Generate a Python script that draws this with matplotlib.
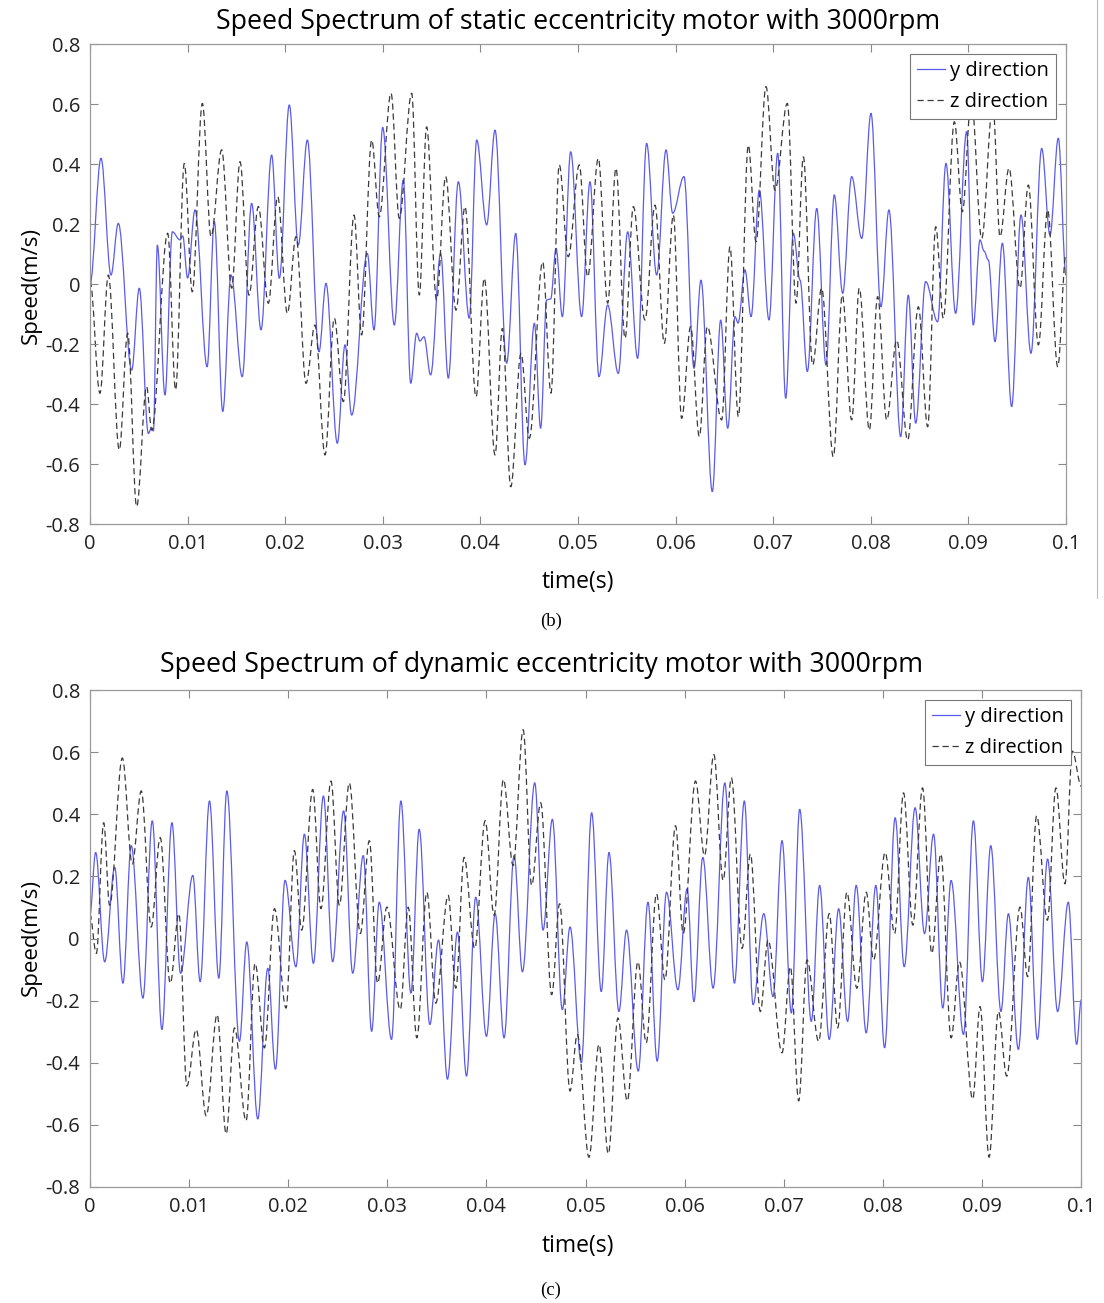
import numpy as np
import matplotlib.pyplot as plt
from matplotlib.path import Path
from matplotlib.patches import PathPatch
from matplotlib.lines import Line2D

# (time s, speed m/s) turning points
b_y = [(0.0, 0.0), (0.00113, 0.419), (0.00215, 0.03), (0.0029, 0.202), (0.00427, -0.287),
       (0.00505, -0.014), (0.00598, -0.498), (0.0063, -0.48), (0.0065, -0.49), (0.0069, 0.13),
       (0.00768, -0.37), (0.00844, 0.174), (0.00922, 0.147), (0.0095, 0.16), (0.0100, 0.02),
       (0.01076, 0.247), (0.0120, -0.276), (0.01274, 0.208), (0.0136, -0.425), (0.01445, 0.03),
       (0.0156, -0.309), (0.01656, 0.269), (0.01752, -0.153), (0.01861, 0.43), (0.0194, 0.019),
       (0.02042, 0.597), (0.02134, 0.13), (0.02227, 0.48), (0.02346, -0.226), (0.02418, 0.002),
       (0.02534, -0.531), (0.02613, -0.203), (0.02681, -0.437), (0.02841, 0.102), (0.0291, -0.153),
       (0.02999, 0.522), (0.03118, -0.137), (0.0321, 0.347), (0.03286, -0.331), (0.03347, -0.164),
       (0.0338, -0.19), (0.03422, -0.176), (0.0349, -0.303), (0.03593, 0.102), (0.03671, -0.314),
       (0.03774, 0.341), (0.03886, -0.114), (0.03962, 0.48), (0.04064, 0.197), (0.0415, 0.513),
       (0.04269, -0.264), (0.04362, 0.169), (0.04457, -0.603), (0.04553, -0.131), (0.04617, -0.481),
       (0.04679, -0.053), (0.0472, -0.05), (0.04775, 0.119), (0.0484, -0.109), (0.04925, 0.441),
       (0.05037, -0.109), (0.05123, 0.341), (0.05215, -0.309), (0.05304, -0.07), (0.05413, -0.298),
       (0.05509, 0.174), (0.05611, -0.248), (0.05703, 0.469), (0.05806, 0.03), (0.05902, 0.447),
       (0.0597, 0.236), (0.06086, 0.358), (0.06189, -0.281), (0.0626, 0.013), (0.06376, -0.692),
       (0.06462, -0.12), (0.06534, -0.481), (0.06609, -0.109), (0.0664, -0.13), (0.06711, 0.047),
       (0.06773, -0.109), (0.06858, 0.313), (0.06957, -0.12), (0.07046, 0.436), (0.07128, -0.381),
       (0.07206, 0.169), (0.07275, 0.013), (0.0735, -0.292), (0.07446, 0.252), (0.07541, -0.27),
       (0.07626, 0.297), (0.07712, -0.031), (0.07804, 0.358), (0.07907, 0.152), (0.08002, 0.569),
       (0.08104, -0.076), (0.08186, 0.247), (0.08306, -0.509), (0.08384, -0.037), (0.0846, -0.464),
       (0.08562, 0.008), (0.08685, -0.126), (0.0877, 0.402), (0.08869, -0.098), (0.08982, 0.508),
       (0.0905, -0.137), (0.09119, 0.147), (0.0916, 0.11), (0.09204, 0.08), (0.09273, -0.192),
       (0.09348, 0.136), (0.09443, -0.409), (0.09539, 0.23), (0.09641, -0.231), (0.09751, 0.452),
       (0.09836, 0.163), (0.09921, 0.486), (0.1, 0.03)]

b_z = [(0.0, 0.01), (0.00102, -0.364), (0.00188, 0.03), (0.003, -0.553), (0.00386, -0.164),
       (0.00478, -0.742), (0.0058, -0.342), (0.00632, -0.487), (0.00796, 0.169), (0.00877, -0.353),
       (0.00966, 0.402), (0.01048, -0.026), (0.01151, 0.602), (0.0124, 0.158), (0.01349, 0.447),
       (0.01452, -0.014), (0.01537, 0.408), (0.01629, -0.037), (0.01725, 0.258), (0.01827, -0.064),
       (0.01923, 0.291), (0.02022, -0.098), (0.02111, 0.158), (0.02213, -0.331), (0.02305, -0.137),
       (0.02408, -0.57), (0.02503, -0.114), (0.02596, -0.392), (0.02705, 0.23), (0.02783, -0.17),
       (0.02886, 0.48), (0.02964, 0.224), (0.03084, 0.636), (0.03169, 0.219), (0.03296, 0.636),
       (0.03374, -0.037), (0.03449, 0.524), (0.03551, -0.053), (0.03644, 0.358), (0.0375, -0.087),
       (0.03842, 0.258), (0.03955, -0.376), (0.0404, 0.019), (0.0415, -0.57), (0.04225, -0.148),
       (0.04311, -0.676), (0.04416, -0.231), (0.04501, -0.514), (0.04638, 0.074), (0.04723, -0.364),
       (0.04808, 0.397), (0.049, 0.091), (0.05013, 0.397), (0.05099, 0.024), (0.05208, 0.419),
       (0.05304, -0.064), (0.05389, 0.386), (0.05482, -0.181), (0.05567, 0.258), (0.05686, -0.12),
       (0.05789, 0.263), (0.05884, -0.198), (0.05977, 0.23), (0.06062, -0.448), (0.06154, -0.142),
       (0.06243, -0.509), (0.06325, -0.142), (0.06472, -0.453), (0.06557, 0.124), (0.06643, -0.442),
       (0.06745, 0.463), (0.06824, 0.141), (0.06926, 0.658), (0.07018, 0.313), (0.07145, 0.602),
       (0.07234, -0.064), (0.07309, 0.424), (0.07404, -0.27), (0.07496, -0.014), (0.07616, -0.576),
       (0.07708, -0.037), (0.07804, -0.453), (0.07882, -0.014), (0.07985, -0.487), (0.0807, -0.042),
       (0.08163, -0.453), (0.08265, -0.187), (0.08378, -0.52), (0.08487, -0.076), (0.08583, -0.476),
       (0.08665, 0.191), (0.08743, -0.114), (0.08856, 0.541), (0.08938, 0.241), (0.0903, 0.62),
       (0.09136, 0.152), (0.0925, 0.60), (0.09324, 0.158), (0.09416, 0.386), (0.09529, -0.014),
       (0.09614, 0.33), (0.09717, -0.203), (0.09812, 0.247), (0.09915, -0.276), (0.1, 0.1)]

c_y = [(0.0, 0.069), (0.0006, 0.277), (0.00151, -0.075), (0.00252, 0.229), (0.00335, -0.144),
       (0.00419, 0.299), (0.00537, -0.192), (0.00631, 0.379), (0.00728, -0.293), (0.00829, 0.373),
       (0.00916, -0.112), (0.0104, 0.203), (0.01114, -0.139), (0.01208, 0.443), (0.01302, -0.128),
       (0.01383, 0.475), (0.0151, -0.331), (0.01584, -0.011), (0.01695, -0.581), (0.01796, -0.096),
       (0.01873, -0.421), (0.0197, 0.187), (0.0208, -0.091), (0.02165, 0.336), (0.02256, -0.08),
       (0.02357, 0.459), (0.0245, -0.075), (0.02561, 0.411), (0.02652, -0.112), (0.02759, 0.267),
       (0.02843, -0.299), (0.0292, 0.117), (0.03044, -0.325), (0.03138, 0.443), (0.03239, -0.176),
       (0.03323, 0.352), (0.0343, -0.277), (0.03518, -0.005), (0.03608, -0.453), (0.03709, 0.021),
       (0.038, -0.443), (0.03893, 0.133), (0.04001, -0.315), (0.04089, 0.08), (0.04179, -0.32),
       (0.0428, 0.267), (0.04364, -0.107), (0.04488, 0.501), (0.04572, 0.027), (0.04666, 0.384),
       (0.04766, -0.229), (0.04844, 0.037), (0.04958, -0.4), (0.05062, 0.405), (0.05159, -0.171),
       (0.05237, 0.277), (0.05337, -0.235), (0.05414, 0.027), (0.05532, -0.427), (0.0563, 0.117),
       (0.05723, -0.395), (0.05817, 0.149), (0.05932, -0.165), (0.06025, 0.16), (0.06093, -0.203),
       (0.06183, 0.261), (0.06287, -0.16), (0.06405, 0.501), (0.06502, -0.144), (0.06602, 0.443),
       (0.0669, -0.213), (0.06798, 0.08), (0.06891, -0.187), (0.06982, 0.315), (0.07076, -0.24),
       (0.0716, 0.416), (0.07277, -0.267), (0.07361, 0.171), (0.07458, -0.325), (0.07553, 0.096),
       (0.07643, -0.267), (0.0773, 0.171), (0.07831, -0.304), (0.07928, 0.171), (0.08016, -0.352),
       (0.08123, 0.389), (0.08214, -0.091), (0.08324, 0.421), (0.08419, 0.016), (0.0851, 0.336),
       (0.08603, -0.224), (0.08687, 0.187), (0.08812, -0.309), (0.08912, 0.379), (0.09003, -0.139),
       (0.09087, 0.299), (0.0919, -0.235), (0.09265, 0.08), (0.09365, -0.357), (0.09466, 0.197),
       (0.09557, -0.325), (0.0966, 0.256), (0.09761, -0.235), (0.09869, 0.117), (0.09953, -0.341),
       (0.1, -0.197)]

c_z = [(0.0, 0.08), (0.00067, -0.048), (0.00141, 0.373), (0.00201, 0.107), (0.00329, 0.581),
       (0.00429, 0.24), (0.0052, 0.475), (0.0062, 0.037), (0.00711, 0.325), (0.00812, -0.144),
       (0.00899, 0.08), (0.0098, -0.475), (0.01074, -0.293), (0.01175, -0.571), (0.01285, -0.245),
       (0.01376, -0.629), (0.0146, -0.288), (0.01577, -0.587), (0.01668, -0.08), (0.01762, -0.352),
       (0.01863, 0.096), (0.0198, -0.224), (0.02064, 0.283), (0.02138, 0.027), (0.02249, 0.48),
       (0.02332, 0.096), (0.02433, 0.507), (0.02518, 0.107), (0.02618, 0.501), (0.02729, 0.016),
       (0.0282, 0.315), (0.02903, -0.144), (0.02997, 0.101), (0.03132, -0.229), (0.03212, 0.101),
       (0.03299, -0.32), (0.034, 0.149), (0.0349, -0.208), (0.03615, 0.139), (0.03692, -0.16),
       (0.03776, 0.261), (0.03883, -0.032), (0.03988, 0.379), (0.04078, 0.075), (0.04172, 0.512),
       (0.0427, 0.235), (0.04371, 0.672), (0.04457, 0.171), (0.04548, 0.437), (0.04659, -0.181),
       (0.04739, 0.112), (0.04844, -0.491), (0.04917, -0.309), (0.05035, -0.704), (0.05136, -0.341),
       (0.0523, -0.693), (0.05327, -0.256), (0.05421, -0.523), (0.05529, -0.075), (0.05612, -0.336),
       (0.05716, 0.144), (0.05801, -0.133), (0.05908, 0.363), (0.05985, 0.016), (0.06109, 0.507),
       (0.062, 0.267), (0.06294, 0.592), (0.06388, 0.187), (0.06471, 0.517), (0.06579, -0.032),
       (0.06663, 0.272), (0.06763, -0.235), (0.06841, -0.005), (0.06982, -0.368), (0.07066, -0.091),
       (0.0715, -0.523), (0.07234, -0.069), (0.07351, -0.331), (0.07458, 0.08), (0.07543, -0.288),
       (0.07636, 0.149), (0.07737, -0.16), (0.07831, 0.149), (0.07905, -0.069), (0.08022, 0.277),
       (0.08117, 0.016), (0.08207, 0.469), (0.08301, 0.043), (0.08399, 0.485), (0.08492, -0.048),
       (0.08583, 0.272), (0.08687, -0.32), (0.08771, -0.075), (0.08905, -0.517), (0.08979, -0.219),
       (0.0907, -0.704), (0.09164, -0.235), (0.09248, -0.443), (0.09382, 0.101), (0.09459, -0.123),
       (0.0955, 0.395), (0.09658, 0.059), (0.09744, 0.485), (0.09835, 0.176), (0.0991, 0.603),
       (0.1, 0.49)]

x_ticks = [0, 0.01, 0.02, 0.03, 0.04, 0.05, 0.06, 0.07, 0.08, 0.09, 0.1]
x_labels = ['0', '0.01', '0.02', '0.03', '0.04', '0.05', '0.06', '0.07', '0.08', '0.09', '0.1']
y_ticks = [-0.8, -0.6, -0.4, -0.2, 0, 0.2, 0.4, 0.6, 0.8]
y_labels = ['-0.8', '-0.6', '-0.4', '-0.2', '0', '0.2', '0.4', '0.6', '0.8']

title_b = 'Speed Spectrum of static eccentricity motor with 3000rpm'
title_c = 'Speed Spectrum of dynamic eccentricity motor with 3000rpm'

BLUE = '#5b5bec'
DARK = '#3a3a3a'
DASH = (0, (5, 3))

plt.rcParams['font.family'] = ['Open Sans', 'DejaVu Sans']

W, H = 1104, 1303
fig = plt.figure(figsize=(W / 100, H / 100), dpi=100)


def wave(ax, pts, **kw):
    # smooth curve through the turning points: flat tangent at every point
    t, v = np.array(pts).T
    verts = [(t[0], v[0])]
    codes = [Path.MOVETO]
    for i in range(1, len(t)):
        dt = t[i] - t[i - 1]
        verts += [(t[i - 1] + 0.36 * dt, v[i - 1]), (t[i] - 0.36 * dt, v[i]), (t[i], v[i])]
        codes += [Path.CURVE4] * 3
    ax.add_patch(PathPatch(Path(verts, codes), fill=False, transform=ax.transData, **kw))


def panel(rect, y_pts, z_pts):
    ax = fig.add_axes(rect)
    wave(ax, y_pts, edgecolor=BLUE, lw=0.9)
    wave(ax, z_pts, edgecolor=DARK, lw=0.9, ls=DASH)
    ax.set_xlim(0, 0.1)
    ax.set_ylim(-0.8, 0.8)
    ax.set_xticks(x_ticks, x_labels)
    ax.set_yticks(y_ticks, y_labels)
    ax.tick_params(direction='in', length=6, width=0.8, color='#888888',
                   labelsize=14.5, labelcolor='#222222', top=True, right=True, pad=7)
    for s in ax.spines.values():
        s.set_color('#9a9a9a')
        s.set_linewidth(0.9)
    handles = [Line2D([], [], color=BLUE, lw=0.9, label='y direction'),
               Line2D([], [], color=DARK, lw=0.9, ls=DASH, label='z direction')]
    leg = ax.legend(handles=handles, loc='upper right', fontsize=14.5, frameon=True,
                    fancybox=False, borderaxespad=0.5, handlelength=1.4,
                    handletextpad=0.25, borderpad=0.35, labelspacing=0.55)
    leg.get_frame().set_edgecolor('#777777')
    leg.get_frame().set_linewidth(0.8)
    leg.get_frame().set_alpha(1)
    return ax


ax_b = panel([90 / W, 1 - 524 / H, 976 / W, 480 / H], b_y, b_z)
ax_c = panel([89.7 / W, 1 - 1187 / H, 991.6 / W, 497 / H], c_y, c_z)

fig.text(578 / W, 1 - 22 / H, title_b, ha='center', va='center', fontsize=19.3)
fig.text(542 / W, 1 - 665 / H, title_c, ha='center', va='center', fontsize=19.3)

fig.text(578 / W, 1 - 582 / H, 'time(s)', ha='center', va='center', fontsize=16.5)
fig.text(578 / W, 1 - 1246 / H, 'time(s)', ha='center', va='center', fontsize=16.5)
fig.text(31 / W, 1 - 285 / H, 'Speed(m/s)', ha='center', va='center', rotation=90, fontsize=16)
fig.text(31 / W, 1 - 938 / H, 'Speed(m/s)', ha='center', va='center', rotation=90, fontsize=16)

fig.text(551 / W, 1 - 621 / H, '(b)', ha='center', va='center', fontsize=13.5,
         family='Liberation Serif')
fig.text(551 / W, 1 - 1290 / H, '(c)', ha='center', va='center', fontsize=13.5,
         family='Liberation Serif')

# thin frame edge of the upper panel image
fig.add_artist(Line2D([1097 / W, 1097 / W], [1, 1 - 598 / H], color='#bbbbbb', lw=0.8))

fig.savefig('out.png', dpi=100)
